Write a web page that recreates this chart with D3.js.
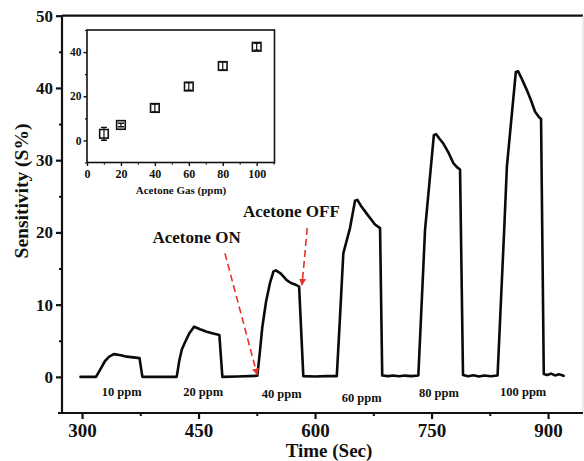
<!DOCTYPE html>
<html>
<head>
<meta charset="utf-8">
<script src="https://cdn.jsdelivr.net/npm/d3@7"></script>
<style>
  html, body { margin: 0; padding: 0; background: #fff; }
  svg { display: block; }
  text { font-family: "Liberation Serif", "Times New Roman", serif; font-weight: bold; fill: #111; }
</style>
</head>
<body>
<svg id="chart" width="584" height="461"></svg>
<script>
// Dynamic response of the sensor to pulses of acetone vapour
const timeSec = [
  298, 318, 323, 329.6, 335, 341, 350, 357.5, 366, 374, 377.7,
  400, 421.9, 425.3, 428.5, 432.6, 438, 444.2, 452, 460.5, 469, 476.8, 480.7,
  500, 525.7, 529, 532, 536.9, 542, 546.5, 549.5, 556, 563.5, 569, 574.2, 579.5, 584.9,
  600, 615, 628, 632, 636.4, 645, 651.5, 654.5, 659, 666.5, 677.2, 683.7, 686.5,
  694, 701, 708, 716, 724, 733,
  741.6, 753, 756, 760, 765.2, 772, 778, 783, 786.7, 790.5,
  797, 804, 811, 818, 826, 835,
  843.5, 847, 858.5, 861.5, 866, 872.7, 878, 883.3, 888, 891, 894.5,
  899, 904, 909, 914, 920
];
const sensitivity = [
  0, 0, 0.95, 2.2, 2.8, 3.15, 3.0, 2.8, 2.7, 2.6, 0,
  0, 0, 2.3, 3.8, 4.8, 6.0, 6.95, 6.6, 6.26, 6.0, 5.8, 0,
  0.05, 0.15, 3.5, 6.8, 10.4, 13.0, 14.6, 14.75, 14.3, 13.4, 13.0, 12.8, 12.5, 0.1,
  0.05, 0.1, 0.1, 8.0, 17.1, 20.6, 24.4, 24.5, 23.7, 22.6, 21.1, 20.6, 0.2,
  0.1, 0.2, 0.08, 0.18, 0.1, 0.2,
  20.3, 33.5, 33.6, 33.0, 32.3, 31.0, 29.6, 29.0, 28.7, 0.25,
  0.1, 0.22, 0.05, 0.2, 0.08, 0.2,
  20.3, 29.1, 42.2, 42.3, 41.3, 39.7, 38.3, 36.7, 36.0, 35.7, 0.4,
  0.25, 0.45, 0.2, 0.35, 0.15
];

// Concentration labels under each pulse
const pulseLabels = ["10 ppm", "20 ppm", "40 ppm", "60 ppm", "80 ppm", "100 ppm"];
const pulseLabelTime = [351, 456, 557, 660, 759.5, 868];

// Calibration: peak response vs. concentration
const concentration = [10, 20, 40, 60, 80, 100];
const responseMean = [3.0, 7.0, 14.7, 24.4, 33.7, 42.4];
const responseErr = [2.9, 0.8, 1.8, 1.7, 1.8, 1.6];

// Axis ticks
const mainXTicks = [300, 450, 600, 750, 900];
const mainXMinor = [375, 525, 675, 825];
const mainYTicks = [0, 10, 20, 30, 40, 50];
const mainYMinor = [5, 15, 25, 35, 45];
const insetXTicks = [0, 20, 40, 60, 80, 100];
const insetXMinor = [10, 30, 50, 70, 90, 110];
const insetYTicks = [0, 20, 40];
const insetYMinor = [-10, 10, 30, 50];

const svg = d3.select("#chart");

// ---------- main panel ----------
const plot = { left: 62, right: 583, top: 15.7, bottom: 413 };
const x = d3.scaleLinear().domain([274.2, 945]).range([plot.left, plot.right]);
const y = d3.scaleLinear().domain([-5, 50]).range([plot.bottom, plot.top]);

// frame: top and a faint right edge
svg.append("line").attr("x1", plot.left).attr("x2", plot.right)
  .attr("y1", plot.top).attr("y2", plot.top)
  .attr("stroke", "#111").attr("stroke-width", 2.2);
svg.append("line").attr("x1", plot.right).attr("x2", plot.right)
  .attr("y1", plot.top).attr("y2", plot.bottom)
  .attr("stroke", "#d8d8d8").attr("stroke-width", 1);

function styleAxis(g, width, fontSize) {
  g.select(".domain").attr("stroke", "#111").attr("stroke-width", width);
  g.selectAll(".tick line").attr("stroke", "#111").attr("stroke-width", width);
  g.selectAll(".tick text").attr("font-size", fontSize)
    .attr("font-family", "'Liberation Serif', 'Times New Roman', serif")
    .attr("font-weight", "bold").attr("fill", "#111");
}

// x axis
const gx = svg.append("g").attr("transform", `translate(0,${plot.bottom})`)
  .call(d3.axisBottom(x).tickValues(mainXTicks).tickSize(6).tickPadding(5).tickFormat(d3.format("d")));
styleAxis(gx, 2.2, 19);
gx.select(".domain").attr("d", `M${plot.left - 4},0H${plot.right}`);
svg.append("g").attr("transform", `translate(0,${plot.bottom})`)
  .call(d3.axisBottom(x).tickValues(mainXMinor).tickSize(3).tickFormat(""))
  .call(g => { g.select(".domain").remove(); g.selectAll("line").attr("stroke", "#111").attr("stroke-width", 2); });

// y axis
const gy = svg.append("g").attr("transform", `translate(${plot.left},0)`)
  .call(d3.axisLeft(y).tickValues(mainYTicks).tickSize(6).tickPadding(3).tickFormat(d3.format("d")));
styleAxis(gy, 2.2, 17);
gy.select(".domain").attr("d", `M0,${plot.bottom}V${plot.top}`);
svg.append("g").attr("transform", `translate(${plot.left},0)`)
  .call(d3.axisLeft(y).tickValues(mainYMinor).tickSize(3).tickFormat(""))
  .call(g => { g.select(".domain").remove(); g.selectAll("line").attr("stroke", "#111").attr("stroke-width", 2); });

// axis titles
svg.append("text").attr("x", 329).attr("y", 456.5).attr("text-anchor", "middle")
  .attr("font-size", 19).text("Time (Sec)");
svg.append("text").attr("transform", "translate(28,191) rotate(-90)")
  .attr("text-anchor", "middle").attr("font-size", 19.5).text("Sensitivity (S%)");

// response curve
const series = timeSec.map((t, i) => [t, sensitivity[i]]);
svg.append("path").datum(series)
  .attr("d", d3.line().x(d => x(d[0])).y(d => y(d[1])))
  .attr("fill", "none").attr("stroke", "#0a0a0a")
  .attr("stroke-width", 2.6).attr("stroke-linejoin", "round").attr("stroke-linecap", "round");

// pulse concentration labels
const labelDrop = [19, 19, 21, 25, 20, 19];
svg.append("g").selectAll("text").data(pulseLabels).join("text")
  .attr("x", (d, i) => x(pulseLabelTime[i]))
  .attr("y", (d, i) => y(0) + labelDrop[i])
  .attr("text-anchor", "middle").attr("font-size", 12.5).text(d => d);

// ON / OFF annotations
const red = "#e8302a";
const defs = svg.append("defs");
defs.append("marker").attr("id", "head").attr("viewBox", "0 0 10 10")
  .attr("refX", 9).attr("refY", 5).attr("markerWidth", 7).attr("markerHeight", 8)
  .attr("markerUnits", "userSpaceOnUse").attr("orient", "auto")
  .append("path").attr("d", "M0,0L10,5L0,10Z").attr("fill", red);

function arrow(t0, s0, t1, s1) {
  svg.append("line")
    .attr("x1", x(t0)).attr("y1", y(s0)).attr("x2", x(t1)).attr("y2", y(s1))
    .attr("stroke", red).attr("stroke-width", 1.6)
    .attr("stroke-dasharray", "7,4").attr("marker-end", "url(#head)");
}
arrow(484, 17.1, 525.5, 0.3);
arrow(590, 20.6, 583.2, 12.7);

svg.append("text").attr("x", 152.5).attr("y", 243).attr("font-size", 17).text("Acetone ON");
svg.append("text").attr("x", 243).attr("y", 217).attr("font-size", 17).text("Acetone OFF");

// ---------- inset: calibration ----------
const ins = { left: 87, right: 274.5, top: 30, bottom: 162.5 };
const ix = d3.scaleLinear().domain([0, 110.5]).range([ins.left, ins.right]);
const iy = d3.scaleLinear().domain([-10, 50]).range([ins.bottom, ins.top]);

svg.append("rect").attr("x", ins.left).attr("y", ins.top)
  .attr("width", ins.right - ins.left).attr("height", ins.bottom - ins.top)
  .attr("fill", "#fff").attr("stroke", "#111").attr("stroke-width", 1.6);

const igx = svg.append("g").attr("transform", `translate(0,${ins.bottom})`)
  .call(d3.axisBottom(ix).tickValues(insetXTicks).tickSize(3.5).tickPadding(3).tickFormat(d3.format("d")));
styleAxis(igx, 1.4, 12);
igx.select(".domain").remove();
svg.append("g").attr("transform", `translate(0,${ins.bottom})`)
  .call(d3.axisBottom(ix).tickValues(insetXMinor.filter(v => v <= 110)).tickSize(2).tickFormat(""))
  .call(g => { g.select(".domain").remove(); g.selectAll("line").attr("stroke", "#111").attr("stroke-width", 1.2); });

const igy = svg.append("g").attr("transform", `translate(${ins.left},0)`)
  .call(d3.axisLeft(iy).tickValues(insetYTicks).tickSize(3.5).tickPadding(2).tickFormat(d3.format("d")));
styleAxis(igy, 1.4, 11.5);
igy.select(".domain").remove();
svg.append("g").attr("transform", `translate(${ins.left},0)`)
  .call(d3.axisLeft(iy).tickValues(insetYMinor).tickSize(2).tickFormat(""))
  .call(g => { g.select(".domain").remove(); g.selectAll("line").attr("stroke", "#111").attr("stroke-width", 1.2); });

svg.append("text").attr("x", 181).attr("y", 193.5).attr("text-anchor", "middle")
  .attr("font-size", 11).text("Acetone Gas (ppm)");

// error bars and open square markers
const pts = concentration.map((c, i) => ({ c, m: responseMean[i], e: responseErr[i] }));
const ptG = svg.append("g");
ptG.selectAll("line.err").data(pts).join("line").attr("class", "err")
  .attr("x1", d => ix(d.c)).attr("x2", d => ix(d.c))
  .attr("y1", d => iy(d.m + d.e)).attr("y2", d => iy(d.m - d.e))
  .attr("stroke", "#111").attr("stroke-width", 1.2);
ptG.selectAll("path.cap").data(pts).join("path").attr("class", "cap")
  .attr("d", d => `M${ix(d.c) - 3},${iy(d.m + d.e)}h6M${ix(d.c) - 3},${iy(d.m - d.e)}h6`)
  .attr("stroke", "#111").attr("stroke-width", 1.4);
ptG.selectAll("rect").data(pts).join("rect")
  .attr("x", d => ix(d.c) - 4.3).attr("y", d => iy(d.m) - 4.3)
  .attr("width", 8.6).attr("height", 8.6)
  .attr("fill", "none").attr("stroke", "#111").attr("stroke-width", 1.6);
</script>
</body>
</html>
